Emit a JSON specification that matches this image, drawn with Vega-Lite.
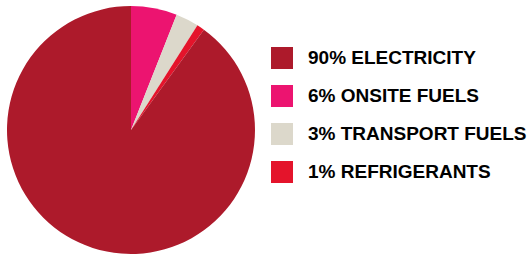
{
  "$schema": "https://vega.github.io/schema/vega-lite/v6.json",
  "width": 248,
  "height": 248,
  "autosize": {"type": "none"},
  "padding": {"left": 7, "top": 6, "right": 274, "bottom": 2},
  "background": "white",
  "data": {"values": [
    {"label": "6% ONSITE FUELS", "value": 6, "ord": 1},
    {"label": "3% TRANSPORT FUELS", "value": 3, "ord": 2},
    {"label": "1% REFRIGERANTS", "value": 1, "ord": 3},
    {"label": "90% ELECTRICITY", "value": 90, "ord": 4}
  ]},
  "mark": {"type": "arc", "stroke": null},
  "encoding": {
    "theta": {"field": "value", "type": "quantitative", "stack": true},
    "order": {"field": "ord", "type": "quantitative"},
    "color": {
      "field": "label",
      "type": "nominal",
      "scale": {
        "domain": ["90% ELECTRICITY", "6% ONSITE FUELS", "3% TRANSPORT FUELS", "1% REFRIGERANTS"],
        "range": ["#AD1A2B", "#EC1470", "#DCD8CB", "#E4142B"]
      },
      "legend": {
        "title": null,
        "orient": "none",
        "legendX": 264,
        "legendY": 41,
        "symbolType": "square",
        "symbolSize": 484,
        "symbolStrokeWidth": 0,
        "labelFont": "Liberation Sans",
        "labelFontSize": 19,
        "labelFontWeight": "bold",
        "labelColor": "black",
        "labelOffset": 15,
        "labelLimit": 400,
        "rowPadding": 16,
        "padding": 0
      }
    }
  }
}
